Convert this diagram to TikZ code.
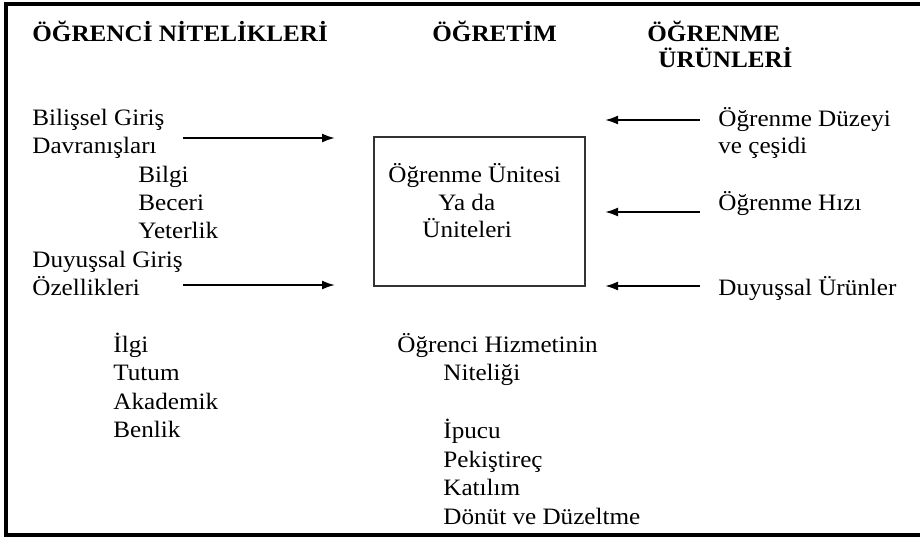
\documentclass[tikz,border=0pt]{standalone}
\usepackage{fontspec}
\setmainfont{Liberation Serif}[FakeStretch=1.07]
\usetikzlibrary{arrows.meta}

\begin{document}
\begin{tikzpicture}[
	x=0.5pt,y=-0.5pt,
	font=\fontsize{11.75}{14}\selectfont,
	baslik/.style={font=\fontsize{11.75}{14}\selectfont\bfseries},
	kutu/.style={draw=black!80,line width=0.8pt,anchor=center,minimum width=105.5pt,minimum height=74.5pt},
	ok/.style={line width=1pt,-{Latex[length=6.5pt,width=4.5pt]}}]
	\tikzstyle{every node}=[anchor=base west,inner sep=0pt]
	\useasboundingbox (0,0) rectangle (920,537);
	% cerceve
	\draw[line width=1.6pt] (921,4) -- (6,4) -- (6,535) -- (921,535);

	% basliklar
	\node[baslik] (ogrenci) at (32,41) {ÖĞRENCİ NİTELİKLERİ};
	\node[baslik] (ogretim) at (432,41) {ÖĞRETİM};
	\node[baslik] (urunler1) at (647,41) {ÖĞRENME};
	\node[baslik] (urunler2) at (658,67) {ÜRÜNLERİ};

	% ogrenci nitelikleri
	\node (bilissel) at (32,125) {Bilişsel Giriş};
	\node (davranis) at (32,153) {Davranışları};
	\node (bilgi) at (138,182) {Bilgi};
	\node (beceri) at (138,210) {Beceri};
	\node (yeterlik) at (138,238) {Yeterlik};
	\node (duyussal) at (32,267) {Duyuşsal Giriş};
	\node (ozellik) at (32,295) {Özellikleri};
	\node (ilgi) at (113,352) {İlgi};
	\node (tutum) at (113,380) {Tutum};
	\node (akademik) at (113,409) {Akademik};
	\node (benlik) at (113,437) {Benlik};

	% ogretim
	\node[kutu] (unite) at (479.5,211.5) {};
	\node (ounite) at (388,182) {Öğrenme Ünitesi};
	\node (yada) at (438,210) {Ya da};
	\node (uniteler) at (422,237) {Üniteleri};
	\node (hizmet) at (397,352) {Öğrenci Hizmetinin};
	\node (nitelik) at (443,380) {Niteliği};
	\node (ipucu) at (443,438) {İpucu};
	\node (pekistirec) at (443,467) {Pekiştireç};
	\node (katilim) at (443,495) {Katılım};
	\node (donut) at (443,524) {Dönüt ve Düzeltme};

	% ogrenme urunleri
	\node (duzey) at (718,126) {Öğrenme Düzeyi};
	\node (cesit) at (718,153) {ve çeşidi};
	\node (hiz) at (718,210) {Öğrenme Hızı};
	\node (duyurun) at (718,295) {Duyuşsal Ürünler};

	% oklar
	\coordinate (bilbas) at (183,138);
	\coordinate (bilson) at (335,138);
	\coordinate (duybas) at (183,285);
	\coordinate (duyson) at (335,285);
	\coordinate (duzbas) at (700,120);
	\coordinate (duzson) at (605,120);
	\coordinate (hizbas) at (700,212);
	\coordinate (hizson) at (605,212);
	\coordinate (urnbas) at (700,286);
	\coordinate (urnson) at (605,286);
	\draw[ok] (bilbas) -- (bilson);
	\draw[ok] (duybas) -- (duyson);
	\draw[ok] (duzbas) -- (duzson);
	\draw[ok] (hizbas) -- (hizson);
	\draw[ok] (urnbas) -- (urnson);
\end{tikzpicture}
\end{document}
